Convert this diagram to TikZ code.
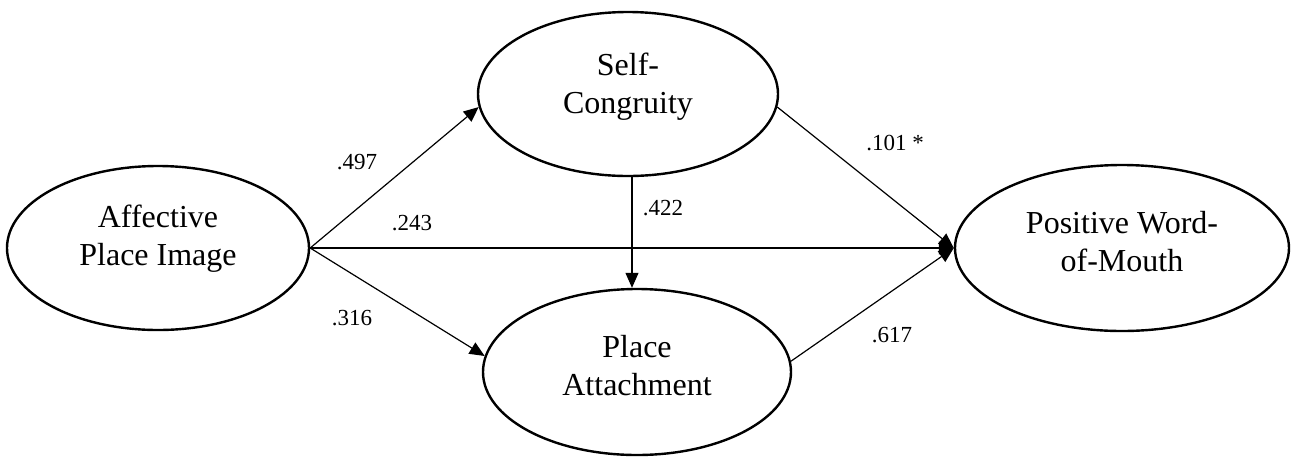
\documentclass[tikz,border=0pt]{standalone}
\usepackage{fontspec}
\setmainfont{Liberation Serif}
\usetikzlibrary{shapes.geometric,arrows.meta}
\begin{document}
\begin{tikzpicture}[x=1pt,y=-1pt,
  construct/.style={ellipse,draw,line width=2.4pt,inner sep=0pt},
  ctext/.style={align=center,inner sep=0pt,font=\fontsize{32}{38}\selectfont},
  path/.style={line width=1.2pt,-{Triangle[length=15pt,width=13pt]}},
  coef/.style={font=\fontsize{23}{27}\selectfont,inner sep=0pt}]
\useasboundingbox (0,0) rectangle (1294,459);
\node[construct,minimum width=302pt,minimum height=164pt] (A) at (158,248) {};
\node[construct,minimum width=300pt,minimum height=164pt] (SC) at (628,94) {};
\node[construct,minimum width=308pt,minimum height=166pt] (PA) at (637,372) {};
\node[construct,minimum width=334pt,minimum height=166pt] (W) at (1122,248) {};
\node[ctext] (At) at (158,239) {Affective\\Place Image};
\node[ctext] (SCt) at (628,87) {Self-\\Congruity};
\node[ctext] (PAt) at (637,366) {Place\\Attachment};
\node[ctext] (Wt) at (1122,242) {Positive Word-\\of-Mouth};
\draw[path] (A.east) -- (SC.185);
\draw[path] (A.east) -- (PA.174);
\draw[path] (A.east) -- (W.west);
\draw[path] (SC.-5) -- (W.west);
\draw[path] (PA.4) -- (W.west);
\draw[path] ([xshift=4pt]SC.south) -- ([xshift=4pt]SC.south |- PA.north);
\node[coef] (l1) at (357,162) {.497};
\node[coef] (l2) at (412,223) {.243};
\node[coef] (l3) at (352,318) {.316};
\node[coef] (l4) at (663,208) {.422};
\node[coef] (l5) at (895,143) {.101 *};
\node[coef] (l6) at (892,335) {.617};
\end{tikzpicture}
\end{document}
